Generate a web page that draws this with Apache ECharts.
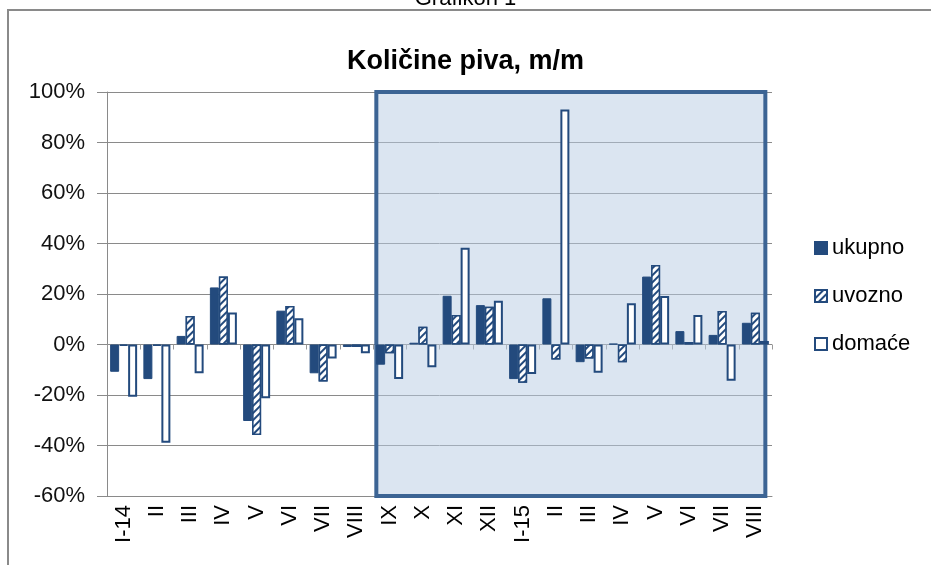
<!DOCTYPE html>
<html>
<head>
	<meta charset="utf-8">
	<title>Količine piva, m/m</title>
	<script src="https://cdn.jsdelivr.net/npm/echarts@6/dist/echarts.min.js"></script>
	<style>
		html, body { margin: 0; padding: 0; background: #fff; }
		#main { width: 931px; height: 565px; }
	</style>
</head>
<body>
	<div id="main"></div>
	<script>
		// mjeseci
		var months = ['I-14', 'II', 'III', 'IV', 'V', 'VI', 'VII', 'VIII', 'IX', 'X', 'XI', 'XII',
			'I-15', 'II', 'III', 'IV', 'V', 'VI', 'VII', 'VIII'];
		// postotne promjene m/m
		var ukupno = [-10.8, -13.7, 3.4, 22.6, -30.3, 13.4, -11.4, -1.0, -8.0, 0.7, 19.3, 15.6,
			-13.7, 18.3, -7.0, 0.3, 26.9, 5.3, 3.8, 8.6];
		var uvozno = [-0.5, -0.5, 11.3, 26.9, -35.8, 15.2, -14.7, -1.0, -3.5, 7.0, 11.7, 15.0,
			-15.1, -5.9, -5.5, -7.0, 31.5, 1.0, 13.3, 12.6];
		var domace = [-20.7, -38.9, -11.4, 12.7, -21.3, 10.4, -5.5, -3.5, -13.7, -9.0, 38.3, 17.3,
			-11.7, 93.1, -11.2, 16.3, 19.2, 11.7, -14.4, 1.4];
		var yTicks = [-60, -40, -20, 0, 20, 40, 60, 80, 100];
		// istaknuto razdoblje (u jedinicama kategorija)
		var boxFrom = 8.1, boxTo = 19.8;

		var blue = '#234a7d';
		var font = 'Liberation Sans, Arial, sans-serif';

		var keys = months.map(function (m, i) { return i; });

		var myChart = echarts.init(document.getElementById('main'), null, { renderer: 'canvas' });
		var option = {
			animation: false,
			backgroundColor: '#fff',
			title: [{
				text: 'Količine piva, m/m',
				left: 'center',
				top: 43,
				textStyle: { fontFamily: font, fontSize: 27, fontWeight: 'bold', color: '#000' }
			}, {
				text: 'Grafikon 1',
				left: 'center',
				top: -17,
				textStyle: { fontFamily: font, fontSize: 22, fontWeight: 'normal', color: '#000' }
			}],
			graphic: [{
				type: 'rect',
				shape: { x: 8, y: 10, width: 1000, height: 700 },
				style: { fill: null, stroke: '#8a8a8a', lineWidth: 2 },
				silent: true
			}],
			legend: {
				orient: 'vertical',
				left: 809,
				top: 232,
				icon: 'rect',
				itemWidth: 12,
				itemHeight: 12,
				itemGap: 26,
				textStyle: { fontFamily: font, fontSize: 22, color: '#000' },
				data: ['ukupno', 'uvozno', 'domaće']
			},
			grid: { left: 107, right: 159, top: 92, bottom: 69 },
			xAxis: [{
				type: 'category',
				data: keys,
				position: 'bottom',
				axisLine: { onZero: false, lineStyle: { color: '#8a8a8a' } },
				axisTick: { show: false },
				axisLabel: {
					interval: 0,
					rotate: 90,
					margin: 9,
					fontFamily: font,
					fontSize: 22,
					color: '#000',
					formatter: function (v) { return months[v]; }
				}
			}, {
				type: 'category',
				data: keys,
				position: 'bottom',
				axisLine: { show: false, onZero: true },
				axisTick: { show: true, length: 5, lineStyle: { color: '#9a9a9a' } },
				axisLabel: { show: false }
			}, {
				type: 'value',
				min: 0,
				max: months.length,
				show: false
			}],
			yAxis: {
				type: 'value',
				min: yTicks[0],
				max: yTicks[yTicks.length - 1],
				interval: 20,
				axisLine: { show: true, lineStyle: { color: '#8a8a8a' } },
				axisTick: { show: true, length: 10, lineStyle: { color: '#8a8a8a' } },
				axisLabel: {
					fontFamily: font,
					fontSize: 22,
					color: '#111',
					margin: 22,
					formatter: '{value}%'
				},
				splitLine: { lineStyle: { color: '#8a8a8a', width: 1 } }
			},
			series: [{
				type: 'scatter',
				xAxisIndex: 2,
				yAxisIndex: 0,
				data: [],
				silent: true,
				z: 1,
				markArea: {
					silent: true,
					itemStyle: {
						color: 'rgba(184, 204, 228, 0.5)',
						borderColor: '#3c6494',
						borderWidth: 4
					},
					data: [[{ xAxis: boxFrom, yAxis: yTicks[0] }, { xAxis: boxTo, yAxis: yTicks[yTicks.length - 1] }]]
				}
			}, {
				name: 'ukupno',
				type: 'bar',
				data: ukupno,
				barWidth: 9,
				barGap: '0%',
				z: 3,
				itemStyle: { color: blue, borderColor: blue, borderWidth: 1 }
			}, {
				name: 'uvozno',
				type: 'bar',
				data: uvozno,
				barWidth: 9,
				z: 3,
				itemStyle: {
					color: '#fff',
					borderColor: blue,
					borderWidth: 1.5,
					decal: {
						symbol: 'rect',
						symbolSize: 1,
						color: blue,
						backgroundColor: '#fff',
						dashArrayX: [1, 0],
						dashArrayY: [2, 3],
						rotation: -Math.PI / 4
					}
				}
			}, {
				name: 'domaće',
				type: 'bar',
				data: domace,
				barWidth: 9,
				z: 3,
				itemStyle: { color: '#fff', borderColor: blue, borderWidth: 2 }
			}]
		};
		myChart.setOption(option);
	</script>
</body>
</html>
